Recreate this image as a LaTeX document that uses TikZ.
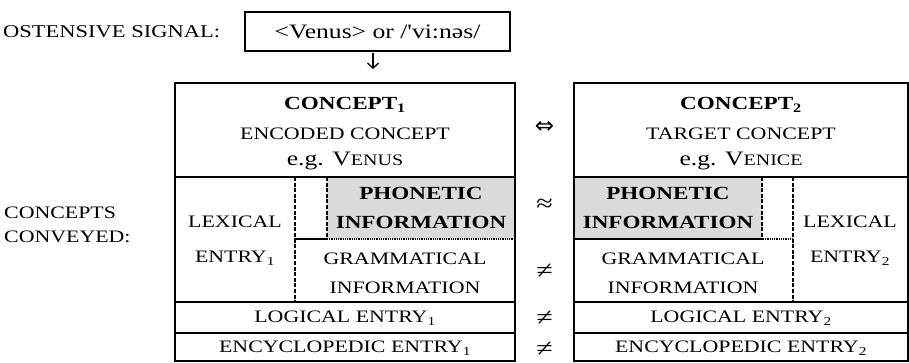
\documentclass[tikz,border=0pt]{standalone}
\usepackage{fontspec}
\setmainfont{Liberation Serif}[FakeStretch=1.25]
\newfontfamily\plainfont{Liberation Serif}[FakeStretch=1.25]
\newfontfamily\symfont{DejaVu Sans}
\usetikzlibrary{arrows.meta}
\begin{document}
\begin{tikzpicture}[x=1pt,y=-1pt,
  txt/.style={inner sep=0pt, font=\fontsize{17.5}{19}\selectfont},
  bld/.style={inner sep=0pt, font=\fontsize{18.5}{20}\selectfont\bfseries},
  big/.style={inner sep=0pt, font=\fontsize{20.5}{22}\selectfont},
  frame/.style={draw, line width=2pt},
  solidl/.style={line width=2pt},
  dashv/.style={line width=2pt, dash pattern=on 4pt off 1.6pt},
  dotl/.style={line width=1.3pt, dash pattern=on 1pt off 0.8pt},
  shadebox/.style={fill=black!14, draw=none}]
\useasboundingbox (0,0) rectangle (909,362);

% ---- top signal
\node[txt, anchor=west, font=\fontsize{18}{20}\selectfont] (osl) at (3,32) {OSTENSIVE SIGNAL:};
\node[frame, txt, minimum width=265pt, minimum height=39pt, inner sep=0pt] (sig) at (377.5,31.5)
  {\plainfont\fontsize{20.5}{22}\selectfont <Venus> or /'vi:nəs/};
\coordinate (arA) at (373,53);
\coordinate (arB) at (373,69);
\draw[line width=1.3pt, -{Straight Barb[length=5pt,width=11pt,line width=1.3pt]}] (arA) -- (arB);

% ---- left label
\node[txt, anchor=west] (cc1) at (4,213) {CONCEPTS};
\node[txt, anchor=west] (cc2) at (4,237) {CONVEYED:};

% ---- shading
\fill[shadebox] (327,177) rectangle (515,239);
\fill[shadebox] (574,177) rectangle (762,239);

% ---- left concept box
\draw[frame] (175,83) rectangle (515,361);
\draw[solidl] (175,177) -- (515,177);
\draw[solidl] (175,302) -- (515,302);
\draw[solidl] (175,333) -- (515,333);
\draw[dashv] (295,177) -- (295,302);
\draw[dashv] (327,177) -- (327,239);
\draw[solidl] (294,239) -- (327,239);
\draw[dotl] (327,239) -- (515,239);

% ---- right concept box
\draw[frame] (574,83) rectangle (907.5,361);
\draw[solidl] (574,177) -- (907.5,177);
\draw[solidl] (574,302) -- (907.5,302);
\draw[solidl] (574,333) -- (907.5,333);
\draw[dashv] (762,177) -- (762,239);
\draw[dashv] (793,177) -- (793,302);
\draw[solidl] (574,239) -- (763,239);
\draw[dotl] (763,239) -- (793,239);

% ---- left texts
\node[bld] (c1a) at (345,105) {CONCEPT\textsubscript{1}};
\node[txt] (c1b) at (345,134) {ENCODED CONCEPT};
\node[big] (c1c) at (345,161) {e.g. V{\fontsize{16}{17}\selectfont ENUS}};
\node[txt] (lx1a) at (235,222) {LEXICAL};
\node[txt] (lx1b) at (235,258) {ENTRY\textsubscript{1}};
\node[bld] (ph1a) at (421,193) {PHONETIC};
\node[bld] (ph1b) at (421,222) {INFORMATION};
\node[txt] (gr1a) at (405,259) {GRAMMATICAL};
\node[txt] (gr1b) at (405,288) {INFORMATION};
\node[txt] (lo1) at (345,318) {LOGICAL ENTRY\textsubscript{1}};
\node[txt] (en1) at (345,348) {ENCYCLOPEDIC ENTRY\textsubscript{1}};

% ---- right texts
\node[bld] (c2a) at (741,105) {CONCEPT\textsubscript{2}};
\node[txt] (c2b) at (741,134) {TARGET CONCEPT};
\node[big] (c2c) at (741,161) {e.g. V{\fontsize{16}{17}\selectfont ENICE}};
\node[bld] (ph2a) at (668,193) {PHONETIC};
\node[bld] (ph2b) at (668,222) {INFORMATION};
\node[txt] (gr2a) at (683,259) {GRAMMATICAL};
\node[txt] (gr2b) at (683,288) {INFORMATION};
\node[txt] (lx2a) at (850,222) {LEXICAL};
\node[txt] (lx2b) at (850,258) {ENTRY\textsubscript{2}};
\node[txt] (lo2) at (741,318) {LOGICAL ENTRY\textsubscript{2}};
\node[txt] (en2) at (741,348) {ENCYCLOPEDIC ENTRY\textsubscript{2}};

% ---- middle symbols
\node[txt] (s1) at (544.5,127) {\symfont\fontsize{23}{24}\selectfont ⇔};
\node[txt] (s2) at (544.5,205) {\fontsize{24}{26}\selectfont ≈};
\node[txt] (s3) at (544.5,271) {\fontsize{24}{26}\selectfont ≠};
\node[txt] (s4) at (544.5,318) {\fontsize{24}{26}\selectfont ≠};
\node[txt] (s5) at (544.5,349) {\fontsize{24}{26}\selectfont ≠};
\end{tikzpicture}
\end{document}
